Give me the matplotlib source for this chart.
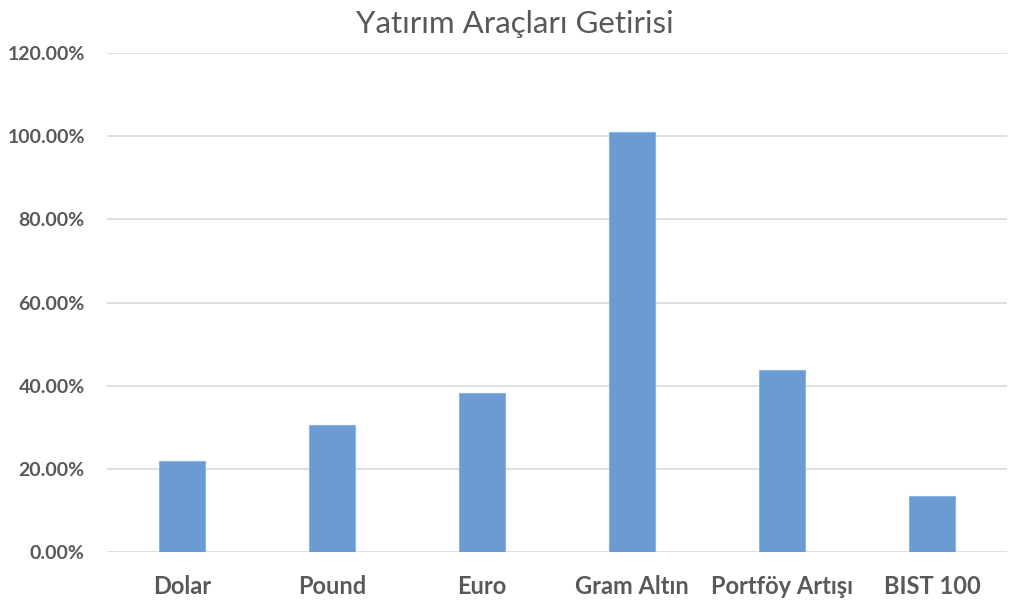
import matplotlib
matplotlib.use('Agg')
import matplotlib.pyplot as plt
from matplotlib.ticker import FuncFormatter

categories = ['Dolar', 'Pound', 'Euro', 'Gram Altın', 'Portföy Artışı', 'BIST 100']
returns = [0.220, 0.305, 0.382, 1.009, 0.439, 0.136]
y_ticks = [0.0, 0.2, 0.4, 0.6, 0.8, 1.0, 1.2]

plt.rcParams['font.family'] = ['Lato', 'DejaVu Sans']

fig = plt.figure(figsize=(10.24, 6.01), dpi=100)
ax = fig.add_axes([107/1024, 48.7/601, 900/1024, 499.3/601])

x = range(len(categories))
ax.bar(x, returns, width=0.313, color='#6A9BD1', edgecolor='#8DB3E2', linewidth=0.8, zorder=3)

ax.set_xlim(-0.5, len(categories) - 0.5)
ax.set_ylim(0, 1.2)
ax.set_yticks(y_ticks)
ax.yaxis.set_major_formatter(FuncFormatter(lambda v, p: '%.2f%%' % (v * 100)))
ax.set_xticks(list(x))
ax.set_xticklabels(categories)

ax.grid(axis='y', color='#D9D9D9', linewidth=1.2, zorder=0)
for s in ax.spines.values():
    s.set_visible(False)
ax.tick_params(axis='both', length=0, colors='#595959')
ax.tick_params(axis='y', pad=16, labelsize=14)
ax.tick_params(axis='x', pad=16, labelsize=17)
for lbl in ax.get_xticklabels() + ax.get_yticklabels():
    lbl.set_fontweight('bold')

fig.text(0.503, 0.945, 'Yatırım Araçları Getirisi', ha='center', va='baseline',
         fontsize=22.5, color='#595959')

fig.savefig('out.png', dpi=100)
